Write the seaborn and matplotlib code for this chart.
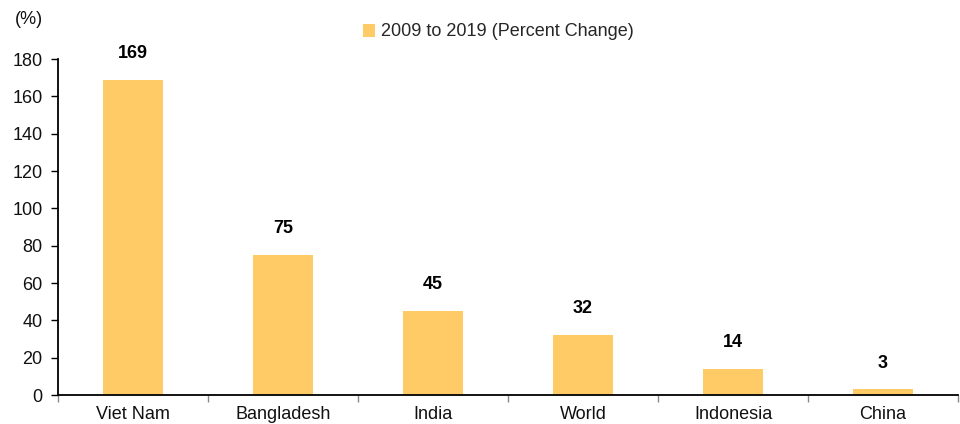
import matplotlib
matplotlib.use("Agg")
import matplotlib.pyplot as plt
import seaborn as sns
import pandas as pd
import numpy as np
from matplotlib import font_manager as fm
from matplotlib.patches import Patch

categories = ["Viet Nam", "Bangladesh", "India", "World", "Indonesia", "China"]
values = [169, 75, 45, 32, 14, 3]
yticks = [0, 20, 40, 60, 80, 100, 120, 140, 160, 180]
series_label = "2009 to 2019 (Percent Change)"
bar_color = "#FECB66"

sns.set_theme(style="white")
names = {f.name for f in fm.fontManager.ttflist}
fams = [f for f in ["Liberation Sans Narrow", "Liberation Sans", "DejaVu Sans"] if f in names]
plt.rcParams["font.family"] = fams

df = pd.DataFrame({"cat": categories, "val": values})

fig = plt.figure(figsize=(9.6, 4.24), dpi=100)
ax = fig.add_axes([58/960, 1-395/424, 900/960, (395-59)/424])
sns.barplot(data=df, x="cat", y="val", color=bar_color, width=0.4, ax=ax,
            saturation=1, edgecolor="none")

ax.set_xlim(-0.5, len(categories)-0.5)
ax.set_ylim(0, 180)
ax.set_yticks(yticks)
ax.set_xlabel("")
ax.set_ylabel("")
for s in ["top", "right"]:
    ax.spines[s].set_visible(False)
for s in ["left", "bottom"]:
    ax.spines[s].set_color("black")
    ax.spines[s].set_linewidth(1.3)

ax.tick_params(axis="y", which="major", left=True, length=5, width=1, color="black",
               labelsize=13, pad=6, labelcolor="#111111")
ax.tick_params(axis="x", which="major", bottom=False, length=0, labelsize=13, pad=8,
               labelcolor="#111111")
ax.set_xticks(np.arange(-0.5, len(categories), 1.0), minor=True)
ax.tick_params(axis="x", which="minor", bottom=True, length=5, width=1, color="#888888")

for i, v in enumerate(values):
    ax.annotate(str(v), xy=(i, v), xytext=(0, 19), textcoords="offset points",
                ha="center", va="center", fontsize=13, fontweight="bold", color="black")

fig.text(15/960, 1-20/424, "(%)", fontsize=13, ha="left", va="center", color="#111111")

handle = Patch(facecolor=bar_color, edgecolor="none", label=series_label)
fig.legend(handles=[handle], loc="center", bbox_to_anchor=(498/960, 1-32/424),
           frameon=False, fontsize=13, handlelength=0.7, handleheight=0.7,
           handletextpad=0.3)

fig.savefig("out.png", dpi=100)
